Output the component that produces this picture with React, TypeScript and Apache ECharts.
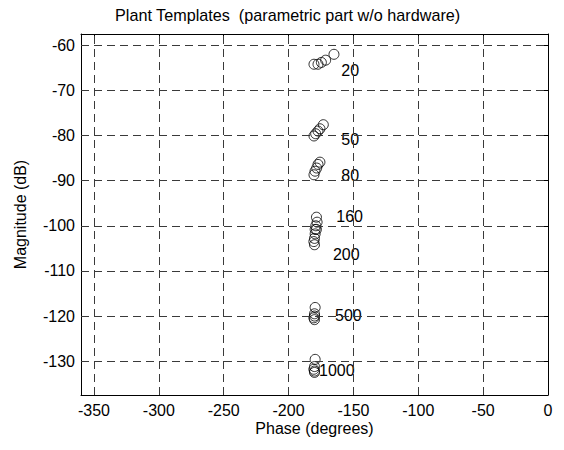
import React, { useEffect, useRef } from "react";
import * as echarts from "echarts";

const FONT = '"Liberation Sans", Arial, Helvetica, sans-serif';

const titleText = "Plant Templates  (parametric part w/o hardware)";
const xName = "Phase (degrees)";
const yName = "Magnitude (dB)";

const xTicks = [-350, -300, -250, -200, -150, -100, -50, 0];
const yTicks = [-130, -120, -110, -100, -90, -80, -70, -60];

// Template points [phase, magnitude] per frequency
const t20 = [[-180.4, -64.2], [-177.3, -64.2], [-174.7, -63.8], [-171.4, -63.3], [-165.0, -62.0]];
const t50 = [[-180.4, -80.1], [-179.1, -79.6], [-177.3, -79.0], [-175.8, -78.5], [-173.2, -77.6]];
const t80 = [[-180.4, -88.7], [-179.6, -87.9], [-178.3, -87.2], [-177.3, -86.4], [-175.8, -85.9]];
const t160 = [[-178.5, -98.1], [-178.0, -99.2], [-179.0, -100.0], [-179.5, -100.8]];
const t200 = [[-178.5, -100.8], [-179.5, -101.8], [-180.0, -102.8], [-180.5, -103.5], [-180.0, -104.2]];
const t500 = [[-179.5, -118.1], [-180.0, -119.5], [-180.0, -120.0], [-180.5, -120.4], [-180.0, -120.8]];
const t1000 = [[-179.5, -129.6], [-180.0, -131.2], [-180.5, -131.8], [-180.0, -132.2], [-180.0, -132.5]];

const freqLabels = ["20", "50", "80", "160", "200", "500", "1000"];
const labelPhase = [-159.3, -159.3, -159.3, -163.2, -165.8, -164.2, -176.5];
const labelMag = [-65.5, -80.9, -88.9, -97.9, -106.4, -119.8, -132.0];

export default function App() {
  const ref = useRef<HTMLDivElement>(null);
  useEffect(() => {
    if (!ref.current) return;
    const chart = echarts.init(ref.current, null, { renderer: "svg" });
    const templates = [t20, t50, t80, t160, t200, t500, t1000];
    const gridStyle = { color: "#3a3a3a", width: 1, type: [8, 5] as any };
    const tickCommon = { inside: true, length: 5, lineStyle: { color: "#000" } };
    const option: any = {
      animation: false,
      backgroundColor: "#fff",
      title: {
        text: titleText,
        left: 115,
        top: 7,
        padding: 0,
        textStyle: { fontFamily: FONT, fontSize: 16.2, fontWeight: "normal", color: "#000" },
      },
      grid: { left: 81, right: 16, top: 34, bottom: 55 },
      xAxis: [
        {
          type: "value",
          min: -360,
          max: 0,
          name: xName,
          nameLocation: "middle",
          nameGap: 26,
          nameMoveOverlap: false,
          nameTextStyle: { fontFamily: FONT, fontSize: 16, color: "#000", lineHeight: 14 },
          axisLine: { show: true, onZero: false, lineStyle: { color: "#000" } },
          axisTick: { ...tickCommon, customValues: xTicks },
          axisLabel: { customValues: xTicks, margin: 8, fontFamily: FONT, fontSize: 16, color: "#000", lineHeight: 14 },
          splitLine: { show: false },
        },
        {
          type: "value",
          position: "top",
          min: -360,
          max: 0,
          axisLine: { show: true, onZero: false, lineStyle: { color: "#000" } },
          axisTick: { ...tickCommon, customValues: xTicks },
          axisLabel: { show: false },
          splitLine: { show: false },
        },
      ],
      yAxis: [
        {
          type: "value",
          min: -137.5,
          max: -57.5,
          name: yName,
          nameLocation: "middle",
          nameGap: 53,
          nameMoveOverlap: false,
          nameTextStyle: { fontFamily: FONT, fontSize: 16, color: "#000" },
          axisLine: { show: true, onZero: false, lineStyle: { color: "#000" } },
          axisTick: { ...tickCommon, customValues: yTicks },
          axisLabel: { customValues: yTicks, margin: 6, fontFamily: FONT, fontSize: 16, color: "#000" },
          splitLine: { show: false },
        },
        {
          type: "value",
          position: "right",
          min: -137.5,
          max: -57.5,
          axisLine: { show: true, onZero: false, lineStyle: { color: "#000" } },
          axisTick: { ...tickCommon, customValues: yTicks },
          axisLabel: { show: false },
          splitLine: { show: false },
        },
      ],
      series: [
        {
          type: "line",
          data: [],
          silent: true,
          markLine: {
            silent: true,
            symbol: ["none", "none"],
            label: { show: false },
            lineStyle: gridStyle,
            data: [
              ...xTicks.filter((v) => v !== 0).map((v) => ({ xAxis: v })),
              ...yTicks.map((v) => ({ yAxis: v })),
            ],
          },
        },
        ...templates.map((t) => ({
          type: "scatter",
          symbol: "circle",
          symbolSize: 10,
          itemStyle: { color: "rgba(0,0,0,0)", borderColor: "#000", borderWidth: 1 },
          data: t,
          z: 3,
        })),
        {
          type: "scatter",
          symbolSize: 0,
          silent: true,
          z: 4,
          itemStyle: { opacity: 1 },
          data: freqLabels.map((n, i) => ({ name: n, value: [labelPhase[i], labelMag[i]] })),
          label: {
            show: true,
            position: "right",
            distance: 0,
            formatter: "{b}",
            fontFamily: FONT,
            fontSize: 16,
            color: "#000",
            opacity: 1,
            textBorderWidth: 0,
          },
        },
      ],
    };
    chart.setOption(option);
    return () => chart.dispose();
  }, []);
  return <div ref={ref} style={{ width: 564, height: 450, margin: -8 }} />;
}
